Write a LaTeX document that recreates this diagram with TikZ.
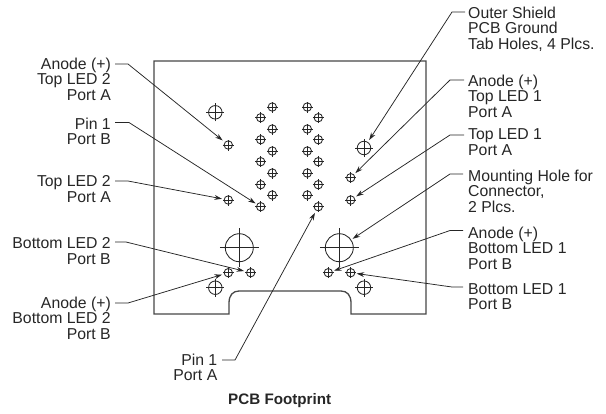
\documentclass[tikz,border=0pt]{standalone}
\usepackage{fontspec}
\setmainfont{Liberation Sans}
\usetikzlibrary{arrows.meta}
\definecolor{ink}{HTML}{262626}
\tikzset{
  x=1bp,y=-1bp,
  lab/.style={inner sep=0pt,text=ink,font=\fontsize{15.8bp}{15.8bp}\selectfont},
  labr/.style={lab,align=right,anchor=north east},
  labl/.style={lab,align=left,anchor=north west},
  boardline/.style={draw=ink!85!white,line width=1.3bp,line join=miter},
  holeline/.style={draw=ink,line width=.85bp},
  leader/.style={draw=ink,line width=.75bp,-{Stealth[length=7.5bp,width=4.8bp]}},
  hole/.style={circle,holeline,inner sep=0pt,outer sep=0pt},
}
\newcommand{\Hole}[5]{% name, x, y, diameter, arm
  \node[hole,minimum size=#4 bp] (#1) at (#2,#3) {};
  \draw[holeline] ([xshift=-#5 bp]#1.center) -- ([xshift=#5 bp]#1.center);
  \draw[holeline] ([yshift=-#5 bp]#1.center) -- ([yshift=#5 bp]#1.center);
}
\newcommand{\Small}[3]{\Hole{#1}{#2}{#3}{8.4}{5.5}}
\newcommand{\Tab}[3]{\Hole{#1}{#2}{#3}{13.5}{9}}
\newcommand{\Mount}[3]{\Hole{#1}{#2}{#3}{28}{19.5}}
\begin{document}
\begin{tikzpicture}
\useasboundingbox (0,0) rectangle (606,413);
% board
\draw[boardline] (229,314) -- (154,314) -- (154,61) -- (426,61) -- (426,314) -- (351,314)
  -- (351,303) .. controls (351,295) and (347,291) .. (341,291)
  -- (239,291) .. controls (233,291) and (229,295) .. (229,303) -- cycle;
% pin field
\foreach \n/\y in {1/117.7,2/139.7,3/161.7,4/184.7,5/206.7}{\Small{a\n}{260.7}{\y}\Small{d\n}{318.3}{\y}}
\foreach \n/\y in {1/107,2/129,3/151,4/173,5/195}{\Small{b\n}{272.3}{\y}\Small{c\n}{307.3}{\y}}
% LED holes
\Small{ledTL}{228.3}{145}
\Small{ledML}{228.3}{200}
\Small{ledTR}{350.7}{177.7}
\Small{ledMR}{350.7}{200}
\Small{ledBLa}{228.3}{272.7}
\Small{ledBLb}{250.7}{272.7}
\Small{ledBRa}{328.3}{272.7}
\Small{ledBRb}{350.7}{272.7}
% tab and mounting holes
\Tab{tabTL}{215.3}{112.3}
\Tab{tabTR}{364}{148}
\Tab{tabBL}{215.3}{287.7}
\Tab{tabBR}{364}{287.7}
\Mount{mountL}{239.3}{247.7}
\Mount{mountR}{339.3}{247.7}
% left labels
\node[labr] (l1) at (111,57.4) {Anode (+)\\Top LED 2\\Port A};
\node[labr] (l2) at (111,117.4) {Pin 1\\Port B};
\node[labr] (l3) at (111,175.4) {Top LED 2\\Port A};
\node[labr] (l4) at (111,237.4) {Bottom LED 2\\Port B};
\node[labr] (l5) at (111,296.4) {Anode (+)\\Bottom LED 2\\Port B};
\node[labr] (l6) at (217.5,353.4) {Pin 1\\Port A};
% right labels
\node[labl] (r1) at (468,6.4) {Outer Shield\\PCB Ground\\Tab Holes, 4 Plcs.};
\node[labl] (r2) at (468,74.4) {Anode (+)\\Top LED 1\\Port A};
\node[labl] (r3) at (468,128.4) {Top LED 1\\Port A};
\node[labl] (r4) at (468,169.4) {Mounting Hole for\\Connector,\\2 Plcs.};
\node[labl] (r5) at (468,226.4) {Anode (+)\\Bottom LED 1\\Port B};
\node[labl] (r6) at (468,283.1) {Bottom LED 1\\Port B};
\node[lab,anchor=base west,font=\fontsize{15.2bp}{15.8bp}\selectfont\bfseries] (title) at (228,404) {PCB Footprint};
% leaders: label edge, elbow, hole
\draw[leader,shorten >=7.3bp] ([xshift=4bp,yshift=-6.6bp]l1.north east) -- +(13,0) -- (ledTL.center);
\draw[leader,shorten >=6bp] ([xshift=4bp,yshift=-5.1bp]l2.north east) -- +(14,0) -- (a5.center);
\draw[leader,shorten >=6.5bp] ([xshift=4bp,yshift=-5.6bp]l3.north east) -- +(13,0) -- (ledML.center);
\draw[leader,shorten >=6.8bp] ([xshift=4bp,yshift=-4.6bp]l4.north east) -- +(11,0) -- (ledBLb.center);
\draw[leader,shorten >=6.5bp] ([xshift=4bp,yshift=-6.6bp]l5.north east) -- +(13,0) -- (ledBLa.center);
\draw[leader,shorten >=7bp] ([xshift=4.5bp,yshift=-6.6bp]l6.north east) -- +(13,0) -- (d5.center);
\draw[leader,shorten >=9.5bp] ([xshift=-3bp,yshift=-5.6bp]r1.north west) -- +(-13,0) -- (tabTR.center);
\draw[leader,shorten >=6.5bp] ([xshift=-4bp,yshift=-5.6bp]r2.north west) -- +(-14,0) -- (ledTR.center);
\draw[leader,shorten >=6.5bp] ([xshift=-4bp,yshift=-6.6bp]r3.north west) -- +(-14,0) -- (ledMR.center);
\draw[leader,shorten >=16bp] ([xshift=-5bp,yshift=-4.6bp]r4.north west) -- +(-13,0) -- (mountR.center);
\draw[leader,shorten >=6bp] ([xshift=-5bp,yshift=-4.1bp]r5.north west) -- +(-13,0) -- (ledBRa.center);
\draw[leader,shorten >=6bp] ([xshift=-5bp,yshift=-3.9bp]r6.north west) -- +(-11,0) -- (ledBRb.center);
\end{tikzpicture}
\end{document}
